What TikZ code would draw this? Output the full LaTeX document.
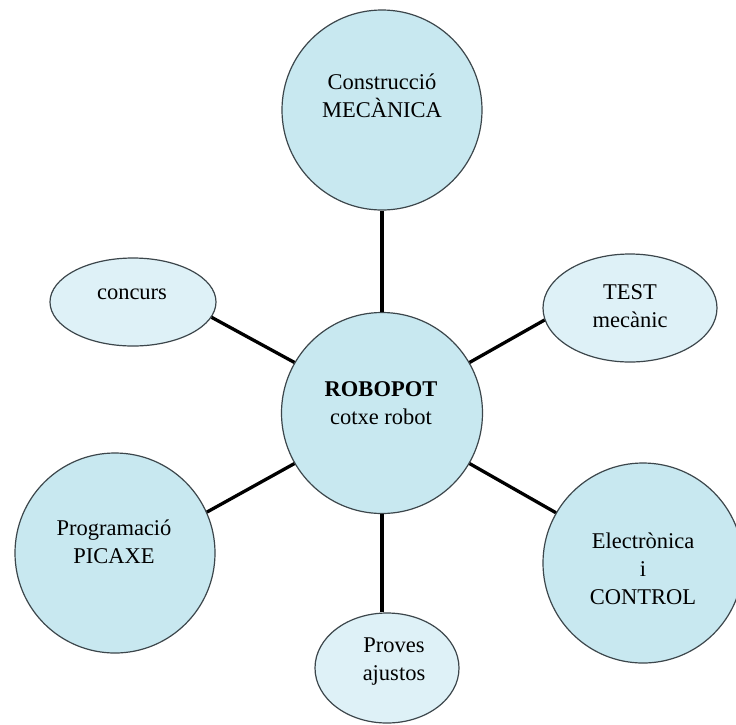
\documentclass[tikz,border=0pt]{standalone}
\usepackage{fontspec}
\setmainfont{Liberation Serif}
\usetikzlibrary{shapes.geometric}
\definecolor{bigfill}{RGB}{200,232,240}
\definecolor{smallfill}{RGB}{222,241,247}
\definecolor{edgecol}{RGB}{60,70,75}
\begin{document}
\begin{tikzpicture}[x=1pt,y=-1pt,
  bigc/.style={circle, draw=edgecol, line width=1.2pt, fill=bigfill, minimum size=200pt, inner sep=0pt},
  smalle/.style={ellipse, draw=edgecol, line width=1.2pt, fill=smallfill, inner sep=0pt},
  txt/.style={font=\fontsize{22.5}{28}\selectfont, align=center, text=black, inner sep=0pt},
  link/.style={line width=3.3pt, black}]
\clip (0,0) rectangle (736,724);
\fill[white] (0,0) rectangle (736,724);
% shapes
\node[bigc] (mec) at (382,110) {};
\node[bigc, minimum size=201pt] (rob) at (382,413) {};
\node[smalle, minimum width=166pt, minimum height=88pt] (conc) at (133,302) {};
\node[smalle, minimum width=174pt, minimum height=108pt] (test) at (630,308) {};
\node[bigc] (prog) at (115,553) {};
\node[bigc] (elec) at (643,563) {};
\node[smalle, minimum width=144pt, minimum height=110pt] (prov) at (387,668) {};
% connectors
\draw[link] (rob.north) -- (mec.south);
\draw[link] (rob.south) -- (rob.south |- prov.north);
\draw[link] (rob.150) -- (conc.-11);
\draw[link] (rob.30) -- (test.-172);
\draw[link] (rob.-150) -- (prog.24);
\draw[link] (rob.-30) -- (elec.150);
% texts
\node[txt] (tmec) at (382,96) {Construcció\\MECÀNICA};
\node[txt] (trob) at (381,403) {\textbf{ROBOPOT}\\cotxe robot};
\node[txt] (tconc) at (132,294) {concurs};
\node[txt] (ttest) at (630,306) {TEST\\mecànic};
\node[txt] (tprog) at (114,542) {Programació\\PICAXE};
\node[txt] (telec) at (643,569) {Electrònica\\i\\CONTROL};
\node[txt] (tprov) at (394,662) {Proves\\ajustos};
\end{tikzpicture}
\end{document}
